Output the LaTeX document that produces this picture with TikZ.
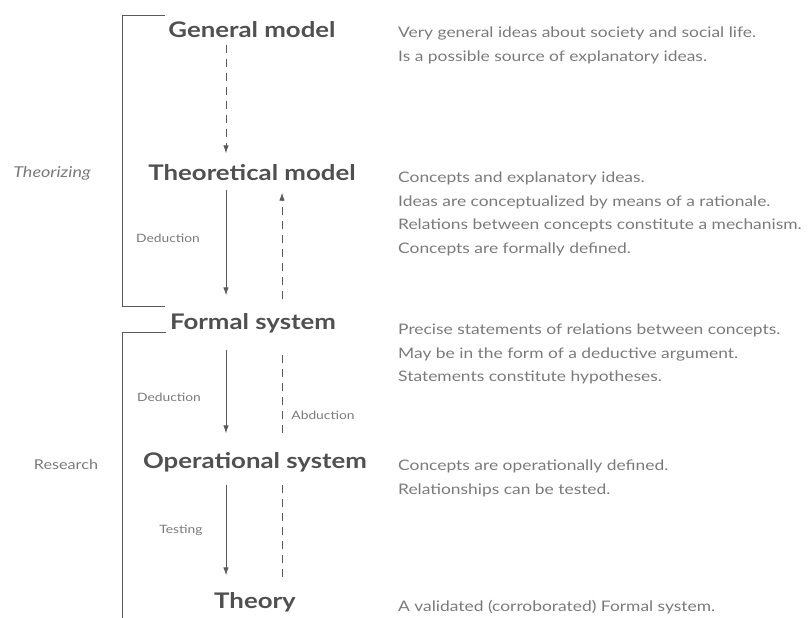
\documentclass[tikz,border=0pt]{standalone}
\usepackage{fontspec}
\setmainfont{Lato}
\newfontfamily\widefont[FakeStretch=1.2]{Lato}
\usetikzlibrary{arrows.meta}
\definecolor{ink}{HTML}{505050}
\definecolor{soft}{HTML}{7A7A7A}
\definecolor{rule}{HTML}{5A5A5A}
\begin{document}
\begin{tikzpicture}[x=1pt,y=-1pt,
  level/.style={font=\widefont\fontsize{21.5}{24}\selectfont\bfseries, text=ink,
    inner sep=0pt, text height=15pt, text depth=4pt},
  note/.style={anchor=north west, align=left, inner sep=0pt,
    font=\widefont\fontsize{14.5}{23.5}\selectfont, text=soft},
  phase/.style={font=\widefont\fontsize{15}{17}\selectfont\itshape, text=soft},
  tag/.style={font=\widefont\fontsize{11.5}{13}\selectfont, text=soft},
  flow/.style={draw=rule, line width=0.9pt, -{Latex[length=8pt,width=5.5pt]}},
  back/.style={flow, dash pattern=on 8pt off 6pt},
  trail/.style={draw=rule, line width=0.9pt, dash pattern=on 8pt off 6pt},
  frame/.style={draw=rule, line width=1pt}]
\useasboundingbox (0,0) rectangle (812,618);

% arrow columns
\coordinate (colA) at (226,0);
\coordinate (colB) at (282,0);

% levels of the model
\node[level] (gen)  at (252,32)  {General model};
\node[level] (theo) at (252,175) {Theoretical model};
\node[level] (form) at (253,324) {Formal system};
\node[level] (oper) at (255,463) {Operational system};
\node[level] (thry) at (255,603) {Theory};

% phase brackets
\draw[frame] (165,16) -- (122,16) -- (122,306) -- (165,306);
\draw[frame] (166,332) -- (122,332) -- (122,618);
\node[phase] (ph1) at (52,173) {Theorizing};
\node[phase, font=\widefont\fontsize{13.5}{15}\selectfont] (ph2) at (66,465) {Research};

% downward steps
\draw[back, shorten <=3pt, shorten >=12pt] (gen.south -| colA) -- (theo.north -| colA);
\draw[flow, shorten <=5pt, shorten >=19pt] (theo.south -| colA) -- (form.north -| colA);
\draw[flow, shorten <=16pt, shorten >=20pt] (form.south -| colA) -- (oper.north -| colA);
\draw[flow, shorten <=12pt, shorten >=18pt] (oper.south -| colA) -- (thry.north -| colA);

% return path (abduction)
\draw[trail, shorten <=16pt, shorten >=12pt] (thry.north -| colB) -- (oper.south -| colB);
\draw[trail, shorten <=20pt, shorten >=16pt] (oper.north -| colB) -- (form.south -| colB);
\draw[back, shorten <=15pt, shorten >=8pt] (form.north -| colB) -- (theo.south -| colB);

% step labels
\node[tag] (t1) at (168,238) {Deduction};
\node[tag] (t2) at (169,397) {Deduction};
\node[tag] (t3) at (323,415) {Abduction};
\node[tag] (t4) at (181,530) {Testing};

% descriptions
\node[note] (d1) at (398,27) {Very general ideas about society and social life.\\Is a possible source of explanatory ideas.};
\node[note] (d2) at (398,172) {Concepts and explanatory ideas.\\Ideas are conceptualized by means of a rationale.\\Relations between concepts constitute a mechanism.\\Concepts are formally defined.};
\node[note] (d3) at (398,324) {Precise statements of relations between concepts.\\May be in the form of a deductive argument.\\Statements constitute hypotheses.};
\node[note] (d4) at (398,460) {Concepts are operationally defined.\\Relationships can be tested.};
\node[note, anchor=base west] (d5) at (398,611) {A validated (corroborated) Formal system.};
\end{tikzpicture}
\end{document}
